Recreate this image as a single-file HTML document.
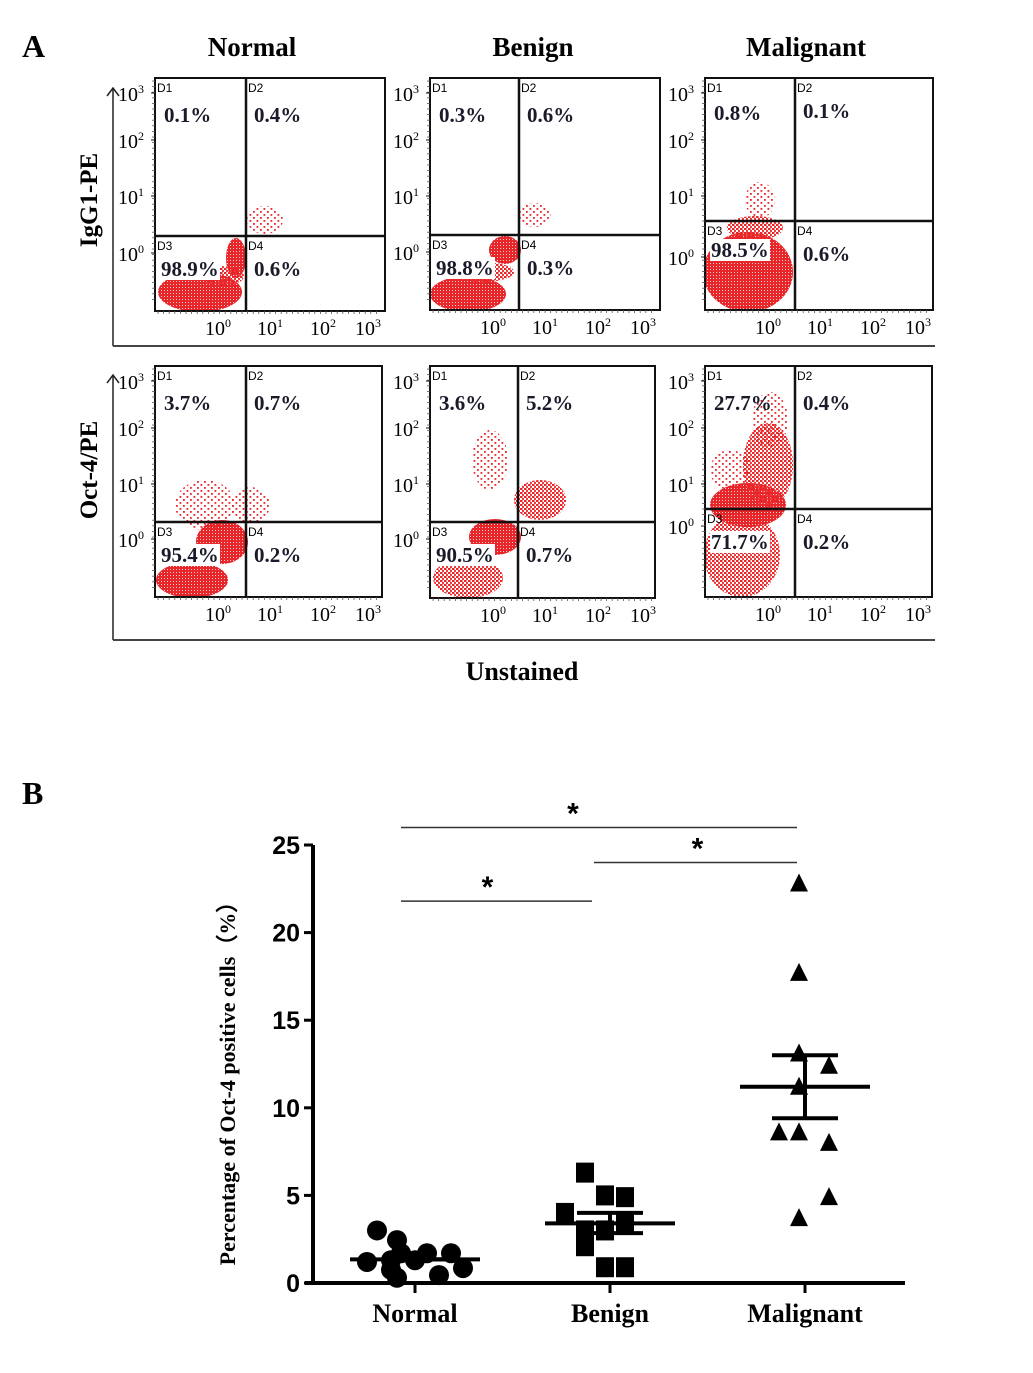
<!DOCTYPE html>
<html><head><meta charset="utf-8"><style>
body{margin:0;background:#fff}
svg text{font-family:"Liberation Serif",serif;font-weight:bold}
</style></head><body>
<svg id="fig" width="1033" height="1368" viewBox="0 0 1033 1368" xmlns="http://www.w3.org/2000/svg">
<defs>
<pattern id="dense" width="3" height="3" patternUnits="userSpaceOnUse"><rect width="3" height="3" fill="#e8262a"/><rect x="2" y="2" width="1" height="1" fill="#fbd0d0"/></pattern>
<pattern id="mid" width="4" height="4" patternUnits="userSpaceOnUse"><rect x="0" y="0" width="2.5" height="2" fill="#e8262a"/><rect x="2" y="2" width="2" height="2" fill="#ee3a3a"/></pattern>
<pattern id="sparse" width="7" height="6" patternUnits="userSpaceOnUse"><rect x="1" y="1" width="1.8" height="1.8" fill="#e8262a"/><rect x="4.5" y="4" width="1.8" height="1.8" fill="#e8262a"/></pattern>
</defs>
<text x="22" y="57" font-size="32">A</text>
<text x="22" y="804" font-size="32">B</text>
<g id="panelA"></g>
<g id="panelB"></g>
</svg>
<script>
const NS="http://www.w3.org/2000/svg";
function mk(parent,tag,attrs,txt){const e=document.createElementNS(NS,tag);for(const k in attrs)e.setAttribute(k,attrs[k]);if(txt!==undefined)e.textContent=txt;parent.appendChild(e);return e;}

// ===== Panel A =====
const colTitles=["Normal","Benign","Malignant"];
const rowTitles=["IgG1-PE","Oct-4/PE"];
const quadPct=[
 [["0.1%","0.4%","98.9%","0.6%"],["0.3%","0.6%","98.8%","0.3%"],["0.8%","0.1%","98.5%","0.6%"]],
 [["3.7%","0.7%","95.4%","0.2%"],["3.6%","5.2%","90.5%","0.7%"],["27.7%","0.4%","71.7%","0.2%"]]
];
const A=document.getElementById('panelA');
const boxes=[
 [{x:155,y:78,w:230,h:233,vx:246,hy:236},{x:430,y:78,w:230,h:232,vx:519,hy:235},{x:705,y:78,w:228,h:232,vx:795,hy:221}],
 [{x:155,y:366,w:227,h:231,vx:246,hy:522},{x:430,y:366,w:225,h:232,vx:518,hy:522},{x:705,y:366,w:227,h:231,vx:795,hy:509}]
];
const clusters=[
 [[[200,292,42,20,'dense'],[236,258,10,20,'dense'],[222,276,22,10,'mid'],[265,220,18,14,'sparse']],
  [[468,294,38,18,'dense'],[505,250,16,14,'dense'],[482,272,32,10,'mid'],[535,215,16,12,'sparse']],
  [[748,272,45,40,'dense'],[755,228,28,12,'mid'],[760,200,15,18,'sparse']]],
 [[[192,580,36,18,'dense'],[222,542,26,22,'dense'],[205,505,30,25,'sparse'],[250,505,20,18,'sparse']],
  [[468,578,35,20,'mid'],[495,537,26,18,'dense'],[540,500,26,20,'mid'],[490,460,18,30,'sparse']],
  [[742,555,38,42,'mid'],[748,505,38,22,'dense'],[768,465,25,42,'mid'],[770,420,18,28,'sparse'],[730,470,20,20,'sparse']]]
];
const xTickLbl=["0","1","2","3"];
for(let r=0;r<2;r++){
 const g=mk(A,'g',{});
 
 
 const top=r?375:88, bot=r?640:346;
 const ax=mk(g,'line',{x1:113,y1:top,x2:113,y2:bot,stroke:'#222','stroke-width':1.5});
 
 mk(g,'path',{d:`M107 ${top+8} L113 ${top} L119 ${top+8}`,fill:'none',stroke:'#222','stroke-width':1.5});
 const hx=mk(g,'line',{x1:113,y1:bot,x2:935,y2:bot,stroke:'#444','stroke-width':2});
 
 const rt=mk(g,'text',{x:0,y:0,'font-size':25,'text-anchor':'middle',transform:`translate(97,${r?470:200}) rotate(-90)`},rowTitles[r]);
 
 for(let c=0;c<3;c++){
  const b=boxes[r][c];
  const p=mk(g,'g',{});
  
  
  mk(p,'rect',{x:b.x,y:b.y,width:b.w,height:b.h,fill:'#fff'});
  const cp='clip'+r+c;
  const cl=mk(p,'clipPath',{id:cp});mk(cl,'rect',{x:b.x,y:b.y,width:b.w,height:b.h});
  const cg=mk(p,'g',{'clip-path':`url(#${cp})`});
  for(const k of clusters[r][c]){const e=mk(cg,'ellipse',{cx:k[0],cy:k[1],rx:k[2],ry:k[3],fill:`url(#${k[4]})`});}
  mk(p,'rect',{x:b.x,y:b.y,width:b.w,height:b.h,fill:'none',stroke:'#111','stroke-width':2});
  mk(p,'line',{x1:b.vx,y1:b.y,x2:b.vx,y2:b.y+b.h,stroke:'#111','stroke-width':2.5});
  mk(p,'line',{x1:b.x,y1:b.hy,x2:b.x+b.w,y2:b.hy,stroke:'#111','stroke-width':2.5});
  const q=[["D1",b.x+2,b.y+14],["D2",b.vx+2,b.y+14],["D3",b.x+2,b.hy+14],["D4",b.vx+2,b.hy+14]];
  q.forEach(t=>{mk(p,'text',{x:t[1],y:t[2],'font-size':12,style:'font-family:Liberation Sans,sans-serif;font-weight:normal'},t[0]);});
  const pc=quadPct[r][c];
  const pos=[[b.x+9,b.y+44],[b.vx+8,b.y+44],[b.x+6,b.hy+40],[b.vx+8,b.hy+40]];
  if(r===0&&c===2){pos[0][1]=b.y+42;pos[1][1]=b.y+40;pos[2][1]=b.hy+36;pos[3][1]=b.hy+40;}
  pc.forEach((t,i)=>{
   if(i===2){mk(p,'rect',{x:pos[i][0]-1,y:pos[i][1]-18,width:t.length*12,height:22,fill:'#fff'});}
   const e=mk(p,'text',{x:pos[i][0],y:pos[i][1],'font-size':21,fill:'#1a1a2a'},t);
   
  });
  const yt=[b.y+15,b.y+62,b.y+118,b.hy+17];
  if(r===0&&c===2)yt[3]=b.hy+36;
  ["3","2","1","0"].forEach((s,i)=>{
   const t=mk(p,'text',{x:b.x-37,y:yt[i]+8,'font-size':20,style:'font-weight:normal'});
   t.appendChild(document.createTextNode('10'));
   mk(t,'tspan',{dy:-8,'font-size':12},s);
   mk(p,'line',{x1:b.x-4,y1:yt[i],x2:b.x,y2:yt[i],stroke:'#111'});
  });
  for(let k=0;k<40;k++)mk(p,'line',{x1:b.x-3,y1:b.y+3+k*5.6,x2:b.x,y2:b.y+3+k*5.6,stroke:'#555','stroke-width':0.8});
  [65,117,170,215].forEach((dx,i)=>{
   const t=mk(p,'text',{x:b.x+dx-15,y:b.y+b.h+24,'font-size':20,style:'font-weight:normal'});
   t.appendChild(document.createTextNode('10'));
   mk(t,'tspan',{dy:-8,'font-size':12},xTickLbl[i]);
  });
  for(let k=0;k<40;k++)mk(p,'line',{x1:b.x+3+k*5.6,y1:b.y+b.h,x2:b.x+3+k*5.6,y2:b.y+b.h+3,stroke:'#555','stroke-width':0.8});
 }
}
[252,533,806].forEach((x,i)=>{const t=mk(A,'text',{x:x,y:56,'font-size':27,'text-anchor':'middle'},colTitles[i]);});
const un=mk(A,'text',{x:522,y:680,'font-size':26,'text-anchor':'middle'},"Unstained");


// ===== Panel B =====
const groups=["Normal","Benign","Malignant"];
const normalVals=[3.0,2.45,1.7,1.7,1.7,1.3,1.3,1.2,0.85,0.75,0.45,0.3];
const benignVals=[6.3,5.0,4.9,4.0,3.5,3.0,3.0,2.1,0.9,0.9];
const malignantVals=[22.8,17.7,13.1,12.4,11.2,8.6,8.6,8.0,4.9,3.7];
const groupMeans=[1.35,3.4,11.2];
const groupSEMhi=[1.35,4.0,13.0];
const groupSEMlo=[1.35,2.85,9.4];
const yTicks=[0,5,10,15,20,25];
const sigPairs=[[0,2,26],[1,2,24.0],[0,1,21.8]];
const starShift=[-26,2,-9];

const B=document.getElementById('panelB');
const y0=1283, yPx=17.52;
const yS=v=>y0-v*yPx;
const xS=i=>415+i*195;
const ya=mk(B,'line',{x1:313,y1:845,x2:313,y2:1285,stroke:'#000','stroke-width':4});

const xa=mk(B,'line',{x1:305,y1:1283,x2:905,y2:1283,stroke:'#000','stroke-width':4});

yTicks.forEach(v=>{
 mk(B,'line',{x1:304,y1:yS(v),x2:313,y2:yS(v),stroke:'#000','stroke-width':3});
 const t=mk(B,'text',{x:300,y:yS(v)+9,'font-size':25,'text-anchor':'end',style:'font-family:Liberation Sans,sans-serif'},String(v));
 
});
const yt=mk(B,'text',{x:0,y:0,'font-size':22,'text-anchor':'middle',transform:'translate(235,1078) rotate(-90)'},"Percentage of Oct-4 positive cells（%）");

groups.forEach((gname,i)=>{
 mk(B,'line',{x1:xS(i),y1:1283,x2:xS(i),y2:1293,stroke:'#000','stroke-width':3});
 const t=mk(B,'text',{x:xS(i),y:1322,'font-size':26,'text-anchor':'middle'},gname);
 
});
const series=[normalVals,benignVals,malignantVals];
const jit=[[-38,-18,-14,12,36,-24,0,-48,48,-24,24,-18],[-25,-5,15,-45,15,-25,-5,-25,-5,15],[-6,-6,-6,24,-6,-26,-6,24,24,-6]];
series.forEach((vals,gi)=>{
 vals.forEach((v,k)=>{
  const cx=xS(gi)+(jit[gi][k]||0), cy=yS(v);
  let e;
  if(gi===0)e=mk(B,'circle',{cx:cx,cy:cy,r:10,fill:'#000'});
  else if(gi===1)e=mk(B,'rect',{x:cx-9,y:cy-10,width:18,height:20,fill:'#000'});
  else e=mk(B,'path',{d:`M${cx} ${cy-10} L${cx+9} ${cy+8} L${cx-9} ${cy+8}Z`,fill:'#000'});
  
  
 });
 const m=mk(B,'line',{x1:xS(gi)-65,y1:yS(groupMeans[gi]),x2:xS(gi)+65,y2:yS(groupMeans[gi]),stroke:'#000','stroke-width':4});
 
 mk(B,'line',{x1:xS(gi),y1:yS(groupSEMhi[gi]),x2:xS(gi),y2:yS(groupSEMlo[gi]),stroke:'#000','stroke-width':4});
 [groupSEMhi[gi],groupSEMlo[gi]].forEach(v=>{const s=mk(B,'line',{x1:xS(gi)-33,y1:yS(v),x2:xS(gi)+33,y2:yS(v),stroke:'#000','stroke-width':4});});
});
sigPairs.forEach((p,i)=>{
 const x1=xS(p[0])-14+(p[0]===1?-2:0), x2=xS(p[1])-8-(p[1]===1?10:0), y=yS(p[2]);
 const l=mk(B,'line',{x1:x1,y1:y,x2:x2,y2:y,stroke:'#333','stroke-width':1.5});
 
 const s=mk(B,'text',{x:(x1+x2)/2+starShift[i],y:y-4,'font-size':30,'text-anchor':'middle',style:'font-family:Liberation Sans,sans-serif'},"*");
 
});
</script>
</body></html>
